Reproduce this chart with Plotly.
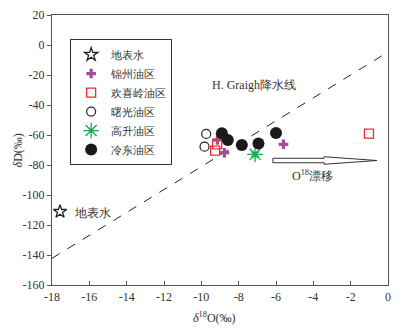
import plotly.graph_objects as go

# -- Data
star_x = [-17.57]
star_y = [-111.1]

jinzhou_x = [-9.14, -8.76, -5.6]
jinzhou_y = [-63.3, -71.8, -66.2]

huanxiling_x = [-9.15, -9.26, -1.02]
huanxiling_y = [-66.2, -70.4, -59.1]

shuguang_x = [-9.74, -9.83]
shuguang_y = [-59.3, -67.8]

gaosheng_x = [-7.12]
gaosheng_y = [-72.9]

lengdong_x = [-8.9, -8.58, -7.83, -6.94, -6.0]
lengdong_y = [-58.9, -63.3, -66.7, -65.6, -58.7]

# -- H. Graigh precipitation line endpoints
line_x = [-18, 0]
line_y = [-142.2, -4.7]

# -- tick labels (hyphen minus as in the reference)
x_ticks = [-18, -16, -14, -12, -10, -8, -6, -4, -2, 0]
y_ticks = [20, 0, -20, -40, -60, -80, -100, -120, -140, -160]

FONT = '"Liberation Serif", "Times New Roman", serif'
TXT = "#333333"
GREEN = "#1aa84a"

fig = go.Figure()

fig.add_trace(go.Scatter(x=line_x, y=line_y, mode="lines", showlegend=False,
                         line=dict(color="#222222", width=1, dash="dash")))

fig.add_trace(go.Scatter(x=star_x, y=star_y, mode="markers", name="地表水",
                         marker=dict(symbol="star-open", size=10, color="#222222",
                                     line=dict(width=1.3))))
fig.add_trace(go.Scatter(x=jinzhou_x, y=jinzhou_y, mode="markers", name="锦州油区",
                         marker=dict(symbol="cross", size=8, color="#a24d9c",
                                     line=dict(width=0))))
fig.add_trace(go.Scatter(x=huanxiling_x, y=huanxiling_y, mode="markers", name="欢喜岭油区",
                         marker=dict(symbol="square-open", size=9, color="#ee2a35",
                                     line=dict(width=1.3))))
fig.add_trace(go.Scatter(x=shuguang_x, y=shuguang_y, mode="markers", name="曙光油区",
                         marker=dict(symbol="circle-open", size=9, color="#222222",
                                     line=dict(width=1.2))))
fig.add_trace(go.Scatter(x=gaosheng_x, y=gaosheng_y, mode="markers", name="高升油区",
                         marker=dict(symbol="asterisk-open", size=13, color=GREEN,
                                     line=dict(width=1.3, color=GREEN))))
fig.add_trace(go.Scatter(x=gaosheng_x, y=gaosheng_y, mode="markers", showlegend=False,
                         marker=dict(symbol="hash-open", size=8, color=GREEN,
                                     line=dict(width=1, color=GREEN))))
fig.add_trace(go.Scatter(x=lengdong_x, y=lengdong_y, mode="markers", name="冷东油区",
                         marker=dict(symbol="circle", size=12, color="#1a1a1a")))

# -- hollow arrow for O18 drift
ax0, ax1, axt, ay = -6.17, -3.42, -0.59, -77
fig.add_shape(type="path", xref="x", yref="y",
              path=(f"M {ax0},{ay-1.5} L {ax1},{ay-1.5} L {ax1},{ay-2.5} L {axt},{ay} "
                    f"L {ax1},{ay+2.5} L {ax1},{ay+1.5} L {ax0},{ay+1.5} Z"),
              line=dict(color="#333333", width=1), fillcolor="white")

fig.add_annotation(x=-4.06, y=-86.7, text="O<sup>18</sup>漂移", showarrow=False,
                   font=dict(family=FONT, size=12, color=TXT))
fig.add_annotation(x=-7.2, y=-26.7, text="H. Graigh降水线", showarrow=False,
                   font=dict(family=FONT, size=12, color=TXT))
fig.add_annotation(x=-15.85, y=-112, text="地表水", showarrow=False,
                   font=dict(family=FONT, size=12, color=TXT))

# -- axis titles as annotations so they sit where the reference has them
fig.add_annotation(xref="paper", yref="paper", x=0.485, y=-0.085,
                   xanchor="center", yanchor="top",
                   text="<i>δ</i><sup>18</sup>O(‰)", showarrow=False,
                   font=dict(family=FONT, size=12, color=TXT))
fig.add_annotation(xref="paper", yref="paper", x=-0.1, y=0.5,
                   xanchor="center", yanchor="middle",
                   text="<i>δ</i>D(‰)", showarrow=False, textangle=-90,
                   font=dict(family=FONT, size=12, color=TXT))

fig.update_xaxes(range=[-18, 0], tickvals=x_ticks, ticktext=[str(v) for v in x_ticks],
                 ticks="inside", ticklen=4, automargin=False,
                 showgrid=False, zeroline=False, showline=True, mirror=True,
                 linecolor="#555555", linewidth=1.2, tickcolor="#555555",
                 tickfont=dict(family=FONT, size=12, color=TXT))
fig.update_yaxes(range=[-160, 20], tickvals=y_ticks, ticktext=[str(v) for v in y_ticks],
                 ticks="outside", ticklen=4, automargin=False,
                 showgrid=False, zeroline=False, showline=True, mirror=True,
                 linecolor="#555555", linewidth=1.2, tickcolor="#555555",
                 tickfont=dict(family=FONT, size=12, color=TXT))

# page body adds 8px, so the figure is shrunk by that amount
fig.update_layout(
    width=397, height=320,
    margin=dict(l=44, r=17, t=7, b=43),
    plot_bgcolor="white", paper_bgcolor="white",
    legend=dict(x=0.054, y=0.911, xanchor="left", yanchor="top",
                bordercolor="#333333", borderwidth=1, bgcolor="white",
                font=dict(family=FONT, size=10.5, color=TXT),
                itemwidth=30, tracegroupgap=0),
)

fig.write_html("out.html")
